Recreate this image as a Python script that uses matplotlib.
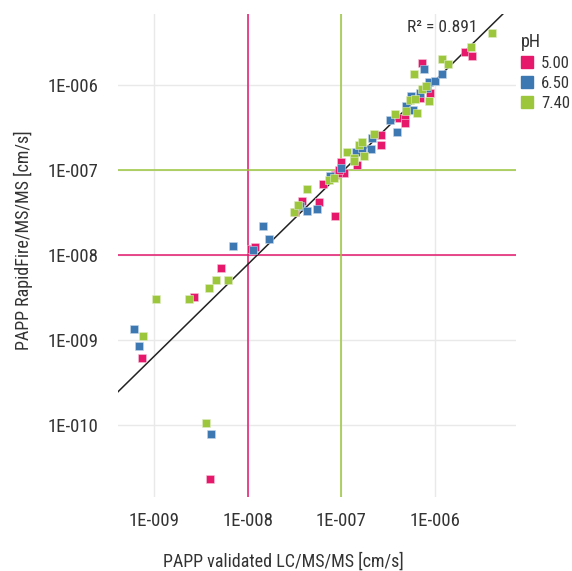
import matplotlib
matplotlib.use("Agg")
import matplotlib.pyplot as plt
from matplotlib.lines import Line2D
import numpy as np

plt.rcParams['font.family'] = ['Roboto Condensed', 'Liberation Sans', 'DejaVu Sans']

# ---- data ----
red_x = [7.3e-10, 2.65e-9, 5.1e-9, 1.08e-8, 1.19e-8, 3.9e-9, 3.2e-8, 3.8e-8, 5.7e-8, 8.6e-8,
         6.3e-8, 8.5e-8, 1.0e-7, 1.07e-7, 9.25e-8, 1.45e-7, 9.4e-8, 2.64e-7, 2.62e-7, 4.08e-7,
         4.8e-7, 4.8e-7, 6.9e-7, 8.8e-7, 7.3e-7, 2.08e-6, 2.46e-6]
red_y = [6.1e-10, 3.2e-9, 7.0e-9, 1.18e-8, 1.24e-8, 2.3e-11, 3.2e-8, 4.3e-8, 4.2e-8, 2.9e-8,
         6.8e-8, 8.9e-8, 1.26e-7, 9.2e-8, 9.2e-8, 1.15e-7, 1.01e-7, 2.0e-7, 2.6e-7, 4.1e-7,
         4.1e-7, 3.6e-7, 7.2e-7, 8.2e-7, 1.83e-6, 2.47e-6, 2.24e-6]

blue_x = [6.0e-10, 6.9e-10, 4.0e-9, 7.0e-9, 1.14e-8, 1.44e-8, 1.67e-8, 3.6e-8, 4.25e-8, 5.5e-8,
          7.5e-8, 1.0e-7, 1.43e-7, 1.66e-7, 2.05e-7, 2.13e-7, 3.3e-7, 3.9e-7, 4.9e-7, 5.85e-7,
          5.6e-7, 6.9e-7, 8.3e-7, 8.7e-7, 9.9e-7, 1.19e-6, 7.6e-7]
blue_y = [1.35e-9, 8.4e-10, 7.8e-11, 1.29e-8, 1.15e-8, 2.2e-8, 1.56e-8, 3.8e-8, 3.3e-8, 3.5e-8,
          8.6e-8, 1.06e-7, 1.63e-7, 1.83e-7, 1.77e-7, 2.42e-7, 3.9e-7, 2.8e-7, 5.7e-7, 5.1e-7,
          7.6e-7, 8.1e-7, 9.3e-7, 1.1e-6, 1.13e-6, 1.36e-6, 1.55e-6]

green_x = [7.6e-10, 1.05e-9, 2.37e-9, 3.8e-9, 4.6e-9, 6.2e-9, 3.56e-9, 3.13e-8, 3.45e-8, 4.3e-8,
           7.3e-8, 8.3e-8, 1.15e-7, 1.37e-7, 1.37e-7, 1.54e-7, 1.68e-7, 1.75e-7, 2.25e-7, 3.7e-7,
           4.9e-7, 5.4e-7, 6.1e-7, 6.5e-7, 7.3e-7, 8.0e-7, 8.6e-7, 6.0e-7, 1.19e-6, 1.38e-6,
           2.4e-6, 4.1e-6]
green_y = [1.11e-9, 3.06e-9, 3.06e-9, 4.06e-9, 5.1e-9, 5.1e-9, 1.04e-10, 3.2e-8, 3.9e-8, 6.0e-8,
           7.7e-8, 8.1e-8, 1.66e-7, 1.41e-7, 1.29e-7, 1.99e-7, 2.16e-7, 1.49e-7, 2.69e-7, 4.6e-7,
           5.05e-7, 6.7e-7, 6.9e-7, 4.7e-7, 9.1e-7, 9.9e-7, 6.6e-7, 1.36e-6, 2.04e-6, 1.78e-6,
           2.82e-6, 4.2e-6]

ph_labels = ["5.00", "6.50", "7.40"]
x_ticks = [1e-9, 1e-8, 1e-7, 1e-6]
x_ticklabels = ["1E-009", "1E-008", "1E-007", "1E-006"]
y_ticks = [1e-10, 1e-9, 1e-8, 1e-7, 1e-6]
y_ticklabels = ["1E-010", "1E-009", "1E-008", "1E-007", "1E-006"]

fit_slope = 1.083       # log-log regression line
fit_intercept = 0.555
r2_text = "R² = 0.891"
red_threshold = 1e-8
green_threshold = 1e-7

# ---- style ----
RED = '#E5186C'
BLUE = '#3D78B2'
GREEN = '#9CC63C'
TXT = '#333333'
FS_TICK = 13.5
FS_LAB = 13
FS_LEG = 12

fig = plt.figure(figsize=(5.72, 5.71), dpi=100)
ax = fig.add_axes([118/572, 1-497/571, (516-118)/572, (497-14)/571])
ax.set_xscale('log')
ax.set_yscale('log')
ax.set_xlim(4.09e-10, 7.35e-6)
ax.set_ylim(1.40e-11, 6.97e-6)

for s in ax.spines.values():
    s.set_visible(False)

# grid
for t in x_ticks:
    ax.axvline(t, color='#e9e9e9', lw=1.0, zorder=0)
for t in y_ticks:
    ax.axhline(t, color='#e9e9e9', lw=1.0, zorder=0)

# threshold lines
ax.axvline(red_threshold, color=RED, lw=1.1, zorder=1)
ax.axhline(red_threshold, color=RED, lw=1.1, zorder=1)
ax.axvline(green_threshold, color=GREEN, lw=1.1, zorder=1)
ax.axhline(green_threshold, color=GREEN, lw=1.1, zorder=1)

# regression line
lx = np.linspace(np.log10(4.09e-10), np.log10(7.35e-6), 50)
ax.plot(10**lx, 10**(fit_slope*lx + fit_intercept), color='#222222', lw=1.1, zorder=2)

ms = 38
ax.scatter(red_x, red_y, marker='s', s=ms, color=RED, edgecolors='#f6c5d8', linewidths=0.4, zorder=3)
ax.scatter(blue_x, blue_y, marker='s', s=ms, color=BLUE, edgecolors='#c4d6ea', linewidths=0.4, zorder=3)
ax.scatter(green_x, green_y, marker='s', s=ms, color=GREEN, edgecolors='#e0eec6', linewidths=0.4, zorder=3)

ax.set_xticks(x_ticks)
ax.set_xticklabels(x_ticklabels)
ax.set_yticks(y_ticks)
ax.set_yticklabels(y_ticklabels)
ax.minorticks_off()
ax.tick_params(length=0, labelsize=FS_TICK, labelcolor=TXT)
ax.tick_params(axis='x', pad=11)
ax.tick_params(axis='y', pad=14)

ax.set_xlabel("PAPP validated LC/MS/MS [cm/s]", fontsize=FS_LAB, color=TXT, va='center')
ax.xaxis.set_label_coords((283 - 118) / 398, -(562 - 497) / 483)
ax.set_ylabel("PAPP RapidFire/MS/MS [cm/s]", fontsize=FS_LAB, color=TXT, va='center')
ax.yaxis.set_label_coords((23 - 118) / 398, (497 - 240) / 483)

ax.text(442/572, 1-27/571, r2_text, transform=fig.transFigure, ha='center', va='center',
        fontsize=12.5, color=TXT)

handles = [Line2D([], [], marker='s', linestyle='none', markersize=8.5, color=c)
           for c in (RED, BLUE, GREEN)]
leg = fig.legend(handles, ph_labels, title='pH', loc='upper left',
                 bbox_to_anchor=(521/572, 1-33/571), frameon=False, fontsize=FS_LEG,
                 title_fontsize=13, handlelength=0.7, handletextpad=0.5,
                 labelspacing=0.3, borderpad=0.0, borderaxespad=0.0)
leg._legend_box.align = 'left'
for t in leg.get_texts():
    t.set_color(TXT)
leg.get_title().set_color(TXT)

fig.savefig("out.png", dpi=100)
